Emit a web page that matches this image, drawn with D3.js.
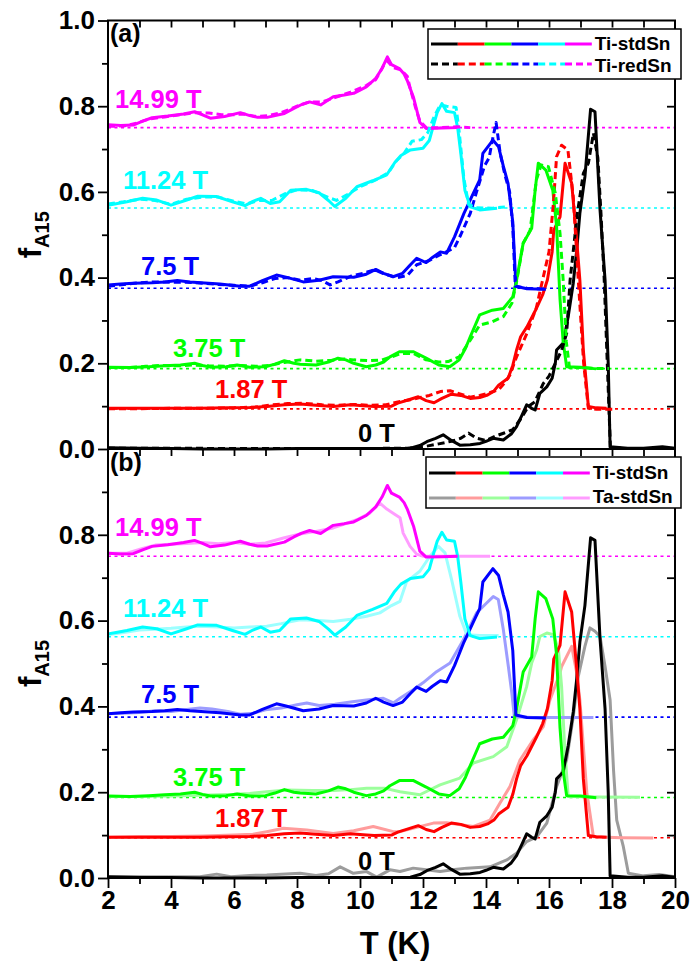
<!DOCTYPE html>
<html><head><meta charset="utf-8">
<script src="https://cdn.jsdelivr.net/npm/d3@7"></script>
<style>
body{margin:0;background:#fff}
svg{display:block}
text{font-family:"Liberation Sans",Arial,sans-serif;font-weight:bold}
</style>
</head><body><svg id="c" width="691" height="965"></svg>
<script>
// ---------------- data ----------------
const fields = ["0 T","1.87 T","3.75 T","7.5 T","11.24 T","14.99 T"];
const offsets = [0, 0.09375, 0.1875, 0.375, 0.5625, 0.75];
const colors = ["#000000","#ff0000","#00ff00","#0000ff","#00ffff","#ff00ff"];
const lightColors = ["#9c9c9c","#ff9c9c","#9cff9c","#9c9cff","#9cffff","#ff9cff"];
const legendA = ["Ti-stdSn","Ti-redSn"];
const legendB = ["Ti-stdSn","Ta-stdSn"];
const xTicks = [2,4,6,8,10,12,14,16,18,20];
const xMinor = [3,5,7,9,11,13,15,17,19];
const yTicksA = [0,0.2,0.4,0.6,0.8,1.0];
const yTicksB = [0,0.2,0.4,0.6,0.8];
const yMinor = [0.1,0.3,0.5,0.7,0.9];

// Ti-stdSn (solid, both panels)
const k_std = [[2.0,0.003],[3,0.002],[4,0.001],[5,0.0],[6,0.0],[7,0.0],[8,0.001],[9,0.001],[10,0.001],[11,0.001],[11.6,0.002],[11.9,0.008],[12.12,0.017],[12.4,0.025],[12.64,0.033],[12.9,0.02],[13.17,0.009],[13.5,0.01],[13.81,0.013],[14.0,0.018],[14.23,0.025],[14.55,0.021],[14.8,0.035],[14.97,0.052],[15.15,0.08],[15.29,0.103],[15.45,0.095],[15.56,0.091],[15.71,0.13],[15.93,0.145],[16.1,0.165],[16.2,0.2],[16.24,0.231],[16.45,0.247],[16.61,0.309],[16.77,0.387],[16.88,0.464],[16.98,0.55],[17.14,0.635],[17.32,0.793],[17.46,0.787],[17.62,0.558],[17.78,0.394],[17.88,0.2],[17.94,0.005],[18.5,0.002],[19.0,0.002],[19.6,0.005],[20.0,0.002]];
const r_std = [[2.0,0.095],[3.0,0.095],[4.0,0.095],[4.9,0.095],[5.8,0.096],[6.5,0.097],[7.05,0.099],[7.6,0.103],[8.1,0.105],[8.6,0.102],[9.15,0.099],[9.7,0.103],[10.1,0.101],[10.45,0.099],[11.0,0.1],[11.2,0.107],[11.55,0.115],[11.85,0.122],[12.1,0.113],[12.35,0.108],[12.6,0.118],[12.9,0.128],[13.2,0.125],[13.5,0.118],[13.8,0.12],[14.05,0.126],[14.25,0.135],[14.4,0.149],[14.7,0.165],[14.85,0.195],[14.97,0.231],[15.1,0.262],[15.3,0.285],[15.6,0.328],[15.8,0.36],[15.95,0.395],[16.1,0.46],[16.15,0.51],[16.35,0.542],[16.51,0.667],[16.72,0.62],[16.88,0.488],[16.98,0.394],[17.09,0.231],[17.25,0.099],[17.5,0.096],[17.83,0.095]];
const g_std = [[2.0,0.191],[2.7,0.19],[3.3,0.192],[3.8,0.194],[4.3,0.196],[4.75,0.2],[5.0,0.195],[5.25,0.191],[5.75,0.192],[6.1,0.196],[6.5,0.191],[7.0,0.192],[7.3,0.198],[7.6,0.206],[7.9,0.2],[8.1,0.198],[8.6,0.196],[9.0,0.203],[9.3,0.212],[9.55,0.208],[9.8,0.2],[10.2,0.192],[10.5,0.196],[10.75,0.203],[10.95,0.215],[11.25,0.227],[11.7,0.227],[12.1,0.212],[12.5,0.196],[12.85,0.192],[13.15,0.208],[13.35,0.235],[13.5,0.262],[13.8,0.313],[14.2,0.324],[14.55,0.328],[14.85,0.355],[14.97,0.394],[15.18,0.48],[15.45,0.515],[15.56,0.604],[15.66,0.667],[15.9,0.651],[16.12,0.604],[16.24,0.52],[16.35,0.35],[16.45,0.25],[16.56,0.192],[17.0,0.191],[17.5,0.187]];
const b_std = [[2.0,0.383],[2.4,0.385],[2.8,0.387],[3.4,0.388],[3.8,0.39],[4.2,0.393],[4.6,0.39],[4.95,0.388],[5.55,0.385],[6.2,0.38],[6.5,0.38],[6.9,0.393],[7.35,0.406],[7.65,0.401],[8.2,0.39],[8.7,0.394],[9.15,0.402],[9.8,0.401],[10.2,0.408],[10.5,0.419],[10.75,0.41],[11.05,0.402],[11.35,0.41],[11.6,0.43],[11.8,0.445],[12.1,0.435],[12.3,0.447],[12.55,0.46],[12.75,0.457],[13.0,0.495],[13.3,0.55],[13.6,0.597],[13.8,0.628],[13.9,0.69],[14.22,0.721],[14.4,0.705],[14.55,0.66],[14.7,0.62],[14.85,0.53],[14.95,0.38],[15.3,0.374],[15.9,0.373]];
const c_std = [[2.0,0.569],[2.3,0.573],[2.6,0.577],[3.1,0.585],[3.55,0.581],[4.0,0.569],[4.5,0.581],[4.85,0.59],[5.45,0.589],[5.95,0.577],[6.35,0.568],[6.6,0.578],[6.85,0.585],[7.15,0.573],[7.45,0.577],[7.8,0.604],[8.3,0.606],[8.7,0.598],[9.0,0.58],[9.2,0.566],[9.55,0.585],[9.9,0.612],[10.4,0.626],[10.85,0.64],[11.1,0.668],[11.3,0.685],[11.6,0.698],[12.0,0.702],[12.2,0.72],[12.35,0.76],[12.45,0.785],[12.6,0.806],[12.75,0.788],[13.0,0.785],[13.1,0.75],[13.2,0.69],[13.33,0.604],[13.5,0.565],[13.8,0.558],[14.35,0.562]];
const m_std = [[2.0,0.757],[2.4,0.755],[2.8,0.756],[3.1,0.765],[3.4,0.773],[3.9,0.777],[4.4,0.782],[4.75,0.787],[5.0,0.78],[5.25,0.772],[5.7,0.776],[6.2,0.785],[6.5,0.778],[6.75,0.774],[7.05,0.774],[7.6,0.783],[7.9,0.795],[8.15,0.804],[8.4,0.81],[8.75,0.803],[9.15,0.822],[9.5,0.826],[9.8,0.83],[10.2,0.845],[10.5,0.865],[10.7,0.888],[10.87,0.915],[11.0,0.897],[11.25,0.888],[11.4,0.875],[11.5,0.86],[11.7,0.82],[11.9,0.762],[12.1,0.748],[12.6,0.749],[13.1,0.75]];

// Ti-redSn (dashed, panel a)
const k_red = [[2.0,0.002],[4,0.002],[6,0.001],[8,0.001],[10,0.001],[11.5,0.002],[12.0,0.005],[12.5,0.012],[12.9,0.018],[13.2,0.025],[13.45,0.037],[13.7,0.025],[14.0,0.02],[14.3,0.03],[14.6,0.038],[14.85,0.045],[15.1,0.07],[15.35,0.1],[15.55,0.11],[15.82,0.153],[16.0,0.17],[16.2,0.2],[16.4,0.23],[16.56,0.27],[16.67,0.394],[16.9,0.55],[17.09,0.643],[17.25,0.667],[17.41,0.737],[17.55,0.68],[17.65,0.55],[17.75,0.4],[17.85,0.2],[17.95,0.003],[18.3,0.002]];
const r_red = [[2.0,0.094],[3.0,0.094],[4.0,0.095],[5.0,0.095],[6.0,0.096],[6.7,0.098],[7.2,0.103],[7.7,0.106],[8.2,0.107],[8.8,0.103],[9.3,0.102],[9.8,0.104],[10.3,0.102],[10.8,0.103],[11.2,0.11],[11.6,0.115],[11.9,0.12],[12.2,0.125],[12.55,0.134],[12.86,0.136],[13.2,0.128],[13.5,0.121],[13.8,0.125],[14.05,0.13],[14.4,0.138],[14.6,0.155],[14.76,0.173],[14.97,0.215],[15.3,0.27],[15.6,0.33],[15.82,0.402],[16.0,0.46],[16.14,0.573],[16.24,0.682],[16.4,0.709],[16.6,0.698],[16.77,0.589],[16.93,0.394],[17.1,0.2],[17.25,0.095],[17.5,0.093],[18.1,0.093]];
const g_red = [[2.0,0.19],[2.6,0.19],[3.2,0.193],[3.7,0.195],[4.2,0.194],[4.7,0.196],[5.2,0.194],[5.7,0.193],[6.2,0.195],[6.7,0.193],[7.1,0.195],[7.6,0.202],[8.1,0.208],[8.6,0.205],[9.1,0.207],[9.5,0.21],[9.8,0.208],[10.3,0.206],[10.7,0.208],[11.0,0.215],[11.3,0.223],[11.7,0.223],[12.1,0.208],[12.5,0.203],[12.8,0.204],[13.15,0.215],[13.5,0.254],[13.8,0.289],[14.2,0.297],[14.55,0.309],[14.82,0.34],[14.97,0.39],[15.18,0.48],[15.4,0.51],[15.6,0.628],[15.75,0.663],[15.98,0.659],[16.2,0.597],[16.35,0.503],[16.45,0.394],[16.55,0.25],[16.65,0.19],[17.0,0.19],[17.5,0.188],[17.9,0.188]];
const b_red = [[2.0,0.38],[2.5,0.384],[3.0,0.388],[3.5,0.39],[4.0,0.389],[4.5,0.389],[5.0,0.387],[5.5,0.384],[6.0,0.382],[6.5,0.38],[6.9,0.388],[7.3,0.398],[7.7,0.4],[8.1,0.394],[8.5,0.398],[8.8,0.393],[9.05,0.383],[9.3,0.39],[9.7,0.403],[10.1,0.41],[10.45,0.418],[10.8,0.408],[11.2,0.4],[11.5,0.405],[11.8,0.43],[12.2,0.44],[12.5,0.452],[12.8,0.462],[13.0,0.47],[13.2,0.5],[13.5,0.55],[13.7,0.6],[13.95,0.66],[14.1,0.68],[14.2,0.72],[14.32,0.762],[14.45,0.69],[14.6,0.64],[14.75,0.6],[14.85,0.52],[14.93,0.38],[15.3,0.375],[15.9,0.373]];
const c_red = [[2.0,0.572],[2.5,0.577],[3.0,0.583],[3.5,0.58],[4.0,0.571],[4.5,0.583],[5.0,0.588],[5.5,0.588],[6.0,0.578],[6.4,0.572],[6.8,0.58],[7.2,0.58],[7.6,0.595],[8.0,0.605],[8.5,0.603],[8.9,0.59],[9.25,0.58],[9.6,0.594],[10.0,0.612],[10.5,0.628],[10.9,0.645],[11.15,0.672],[11.4,0.69],[11.65,0.718],[11.95,0.722],[12.15,0.738],[12.35,0.775],[12.55,0.803],[12.75,0.8],[13.05,0.797],[13.15,0.74],[13.3,0.63],[13.45,0.57],[13.7,0.563],[14.2,0.562],[14.6,0.565]];
const m_red = [[2.0,0.753],[2.5,0.754],[2.9,0.76],[3.3,0.77],[3.8,0.775],[4.3,0.78],[4.8,0.785],[5.2,0.784],[5.6,0.78],[6.0,0.78],[6.3,0.782],[6.7,0.776],[7.1,0.778],[7.5,0.785],[8.0,0.8],[8.4,0.81],[8.8,0.81],[9.2,0.82],[9.7,0.833],[10.2,0.848],[10.5,0.862],[10.75,0.895],[10.88,0.905],[11.05,0.89],[11.3,0.885],[11.5,0.87],[11.6,0.84],[11.75,0.8],[11.9,0.765],[12.1,0.75],[12.6,0.75],[13.1,0.752],[13.5,0.75]];

// Ta-stdSn (light, panel b)
const k_ta = [[2.0,0.002],[3.0,0.002],[4.0,0.003],[4.92,0.003],[5.45,0.009],[5.9,0.003],[6.5,0.006],[7.04,0.007],[7.8,0.01],[8.1,0.011],[8.6,0.006],[9.0,0.01],[9.37,0.026],[9.79,0.011],[10.21,0.015],[10.53,0.002],[10.95,0.019],[11.27,0.015],[11.69,0.023],[12.1,0.019],[12.54,0.015],[13.0,0.02],[13.39,0.023],[14.13,0.026],[14.66,0.042],[14.97,0.058],[15.29,0.085],[15.61,0.096],[15.93,0.128],[16.24,0.213],[16.56,0.275],[16.77,0.376],[16.93,0.47],[17.14,0.54],[17.3,0.583],[17.46,0.575],[17.62,0.563],[17.78,0.493],[17.94,0.415],[18.05,0.25],[18.15,0.135],[18.36,0.073],[18.52,0.011],[19.0,0.005],[19.5,0.008],[20.0,0.003]];
const r_ta = [[2.0,0.095],[3.0,0.097],[4.0,0.097],[5.0,0.098],[6.0,0.1],[6.6,0.102],[7.04,0.108],[7.57,0.116],[8.31,0.112],[9.15,0.104],[9.8,0.11],[10.42,0.12],[11.06,0.108],[11.27,0.108],[11.8,0.118],[12.33,0.128],[12.75,0.129],[13.2,0.124],[13.6,0.12],[14.13,0.135],[14.44,0.174],[14.76,0.213],[15.08,0.275],[15.5,0.322],[15.82,0.353],[16.03,0.415],[16.35,0.478],[16.4,0.493],[16.72,0.54],[16.88,0.478],[16.98,0.415],[17.2,0.2],[17.41,0.096],[18.3,0.094],[19.31,0.093]];
const g_ta = [[2.0,0.19],[3.0,0.19],[4.0,0.191],[5.0,0.193],[6.0,0.195],[6.5,0.197],[7.04,0.201],[7.67,0.205],[8.5,0.204],[9.15,0.204],[9.7,0.206],[10.21,0.209],[10.8,0.209],[11.27,0.201],[11.9,0.194],[12.54,0.217],[13.17,0.233],[13.6,0.268],[14.23,0.283],[14.66,0.306],[14.97,0.369],[15.29,0.446],[15.45,0.501],[15.61,0.532],[15.71,0.563],[15.93,0.571],[16.14,0.567],[16.3,0.532],[16.4,0.446],[16.5,0.3],[16.61,0.19],[17.5,0.189],[18.89,0.188]];
const b_ta = [[2.0,0.383],[2.5,0.384],[3.0,0.386],[3.5,0.39],[4.0,0.388],[4.5,0.393],[4.92,0.396],[5.3,0.394],[5.8,0.388],[6.2,0.382],[6.6,0.384],[7.0,0.392],[7.5,0.396],[8.0,0.404],[8.31,0.408],[8.7,0.402],[9.2,0.405],[9.7,0.41],[10.2,0.415],[10.74,0.419],[11.06,0.408],[11.27,0.419],[11.69,0.439],[12.0,0.455],[12.43,0.481],[12.86,0.501],[13.28,0.555],[13.7,0.618],[14.02,0.641],[14.23,0.656],[14.39,0.649],[14.55,0.579],[14.71,0.493],[14.82,0.431],[14.9,0.376],[15.5,0.374],[16.5,0.374],[17.41,0.374]];
const c_ta = [[2.0,0.567],[2.5,0.572],[3.0,0.578],[3.5,0.58],[4.0,0.582],[4.5,0.585],[4.92,0.587],[5.5,0.585],[6.0,0.583],[6.5,0.585],[7.04,0.587],[7.5,0.593],[8.1,0.602],[8.7,0.6],[9.15,0.598],[9.7,0.603],[10.21,0.61],[10.63,0.618],[11.0,0.635],[11.27,0.645],[11.48,0.691],[11.9,0.715],[12.22,0.75],[12.49,0.773],[12.7,0.758],[12.91,0.695],[13.17,0.61],[13.39,0.567],[13.8,0.565],[14.4,0.565]];
const m_ta = [[2.0,0.757],[2.6,0.757],[3.1,0.768],[3.5,0.776],[4.0,0.778],[4.5,0.78],[5.0,0.782],[5.5,0.779],[6.0,0.782],[6.5,0.778],[7.0,0.781],[7.6,0.793],[8.1,0.802],[8.6,0.808],[9.15,0.816],[9.9,0.835],[10.3,0.85],[10.63,0.874],[10.85,0.86],[11.1,0.848],[11.27,0.84],[11.37,0.804],[11.59,0.773],[11.8,0.755],[12.01,0.75],[13.0,0.75],[14.13,0.75]];

const stdSeries = [k_std, r_std, g_std, b_std, c_std, m_std];
const redSeries = [k_red, r_red, g_red, b_red, c_red, m_red];
const taSeries  = [k_ta, r_ta, g_ta, b_ta, c_ta, m_ta];

// ---------------- layout ----------------
const X0 = 108, X1 = 675, YTOP = 20.5, YMID = 449, YBOT = 878;
const svg = d3.select("#c");
const x = d3.scaleLinear().domain([2,20]).range([X0,X1]);
const yA = d3.scaleLinear().domain([0,1]).range([YMID,YTOP]);
const yB = d3.scaleLinear().domain([0,1]).range([YBOT,YMID]);
const FONT = '"Liberation Sans", Arial, sans-serif';
const LW = 3;

// field label positions (pixel x, baseline offset from panel top)
const labelPos = [[358,421],[215,377.5],[173,336.5],[141,254],[123,168],[115,87]];

function styleAxis(g, fs){
  g.select(".domain").remove();
  g.selectAll(".tick line").attr("stroke","#000").attr("stroke-width",1.8);
  g.selectAll(".tick text").attr("font-size",fs||26).attr("font-family",FONT)
   .attr("font-weight","bold").attr("fill","#000");
}

const line = (y) => d3.line().x(d=>x(d[0])).y(d=>y(d[1]));

function drawPanel(y, top, bottom, secondSeries, secondColors, secondDash, yTicks){
  const g = svg.append("g");
  offsets.forEach((o,i)=>{
    if(i===0) return;
    g.append("line").attr("x1",x(2)).attr("x2",x(20)).attr("y1",y(o)).attr("y2",y(o))
      .attr("stroke",colors[i]).attr("stroke-width",1.6).attr("stroke-dasharray","3,3.5");
  });
  const L = line(y);
  if(!secondDash){
    secondSeries.forEach((s,i)=>{
      g.append("path").attr("d",L(s)).attr("fill","none").attr("stroke",secondColors[i])
        .attr("stroke-width",LW).attr("stroke-linejoin","round");
    });
  }
  stdSeries.forEach((s,i)=>{
    g.append("path").attr("d",L(s)).attr("fill","none").attr("stroke",colors[i])
      .attr("stroke-width",LW).attr("stroke-linejoin","round");
  });
  if(secondDash){
    secondSeries.forEach((s,i)=>{
      g.append("path").attr("d",L(s)).attr("fill","none").attr("stroke",secondColors[i])
        .attr("stroke-width",LW).attr("stroke-dasharray","7,4").attr("stroke-linejoin","round");
    });
  }
  svg.append("rect").attr("x",X0).attr("y",top).attr("width",X1-X0).attr("height",bottom-top)
    .attr("fill","none").attr("stroke","#000").attr("stroke-width",2);
  const la = svg.append("g").attr("transform",`translate(${X0},0)`)
    .call(d3.axisLeft(y).tickValues(yTicks).tickSize(10).tickPadding(3).tickFormat(d3.format(".1f")));
  styleAxis(la, 26);
  const lm = svg.append("g").attr("transform",`translate(${X0},0)`)
    .call(d3.axisLeft(y).tickValues(yMinor).tickSize(6).tickFormat(""));
  styleAxis(lm);
  const ra = svg.append("g").attr("transform",`translate(${X1},0)`)
    .call(d3.axisLeft(y).tickValues(d3.range(1,10).map(v=>v/10)).tickSize(8).tickFormat(""));
  styleAxis(ra);
  const ta = svg.append("g").attr("transform",`translate(0,${top})`)
    .call(d3.axisBottom(x).tickValues(d3.range(3,20)).tickSize(7).tickFormat(""));
  styleAxis(ta);
  fields.forEach((f,i)=>{
    svg.append("text").attr("x",labelPos[i][0]).attr("y",top+labelPos[i][1])
      .attr("font-size",25.5).attr("fill",colors[i]).text(f);
  });
  const t = svg.append("text").attr("transform",`translate(41,${(top+bottom)/2}) rotate(-90)`)
    .attr("text-anchor","middle").attr("font-size",31).attr("fill","#000");
  t.append("tspan").text("f");
  t.append("tspan").attr("font-size",20).attr("dy",8).text("A15");
}

drawPanel(yA, YTOP, YMID, redSeries, colors, true, yTicksA);
drawPanel(yB, YMID, YBOT, taSeries, lightColors, false, yTicksB);

const ba = svg.append("g").attr("transform",`translate(0,${YBOT})`)
  .call(d3.axisBottom(x).tickValues(xTicks).tickSize(10).tickPadding(3).tickFormat(d3.format("d")));
styleAxis(ba, 26);
const bm = svg.append("g").attr("transform",`translate(0,${YBOT})`)
  .call(d3.axisBottom(x).tickValues(xMinor).tickSize(6).tickFormat(""));
styleAxis(bm);
svg.append("text").attr("x",395).attr("y",954).attr("text-anchor","middle")
  .attr("font-size",31).attr("fill","#000").text("T (K)");

svg.append("text").attr("x",110).attr("y",42).attr("font-size",25).attr("fill","#000").text("(a)");
svg.append("text").attr("x",110).attr("y",471).attr("font-size",25).attr("fill","#000").text("(b)");

function legend(bx, by, bw, bh, labels, rowY, textY, c2, dash2){
  svg.append("rect").attr("x",bx).attr("y",by).attr("width",bw).attr("height",bh)
    .attr("fill","#fff").attr("stroke","#000").attr("stroke-width",1.5);
  const segW = 26.8, lx = bx+3;
  colors.forEach((c,i)=>{
    svg.append("line").attr("x1",lx+i*segW).attr("x2",lx+(i+1)*segW).attr("y1",rowY[0]).attr("y2",rowY[0])
      .attr("stroke",c).attr("stroke-width",LW);
    const l2 = svg.append("line").attr("x1",lx+i*segW).attr("x2",lx+(i+1)*segW).attr("y1",rowY[1]).attr("y2",rowY[1])
      .attr("stroke",c2[i]).attr("stroke-width",LW);
    if(dash2) l2.attr("stroke-dasharray","7,4");
  });
  labels.forEach((t,i)=>{
    svg.append("text").attr("x",lx+6*segW+3).attr("y",textY[i]).attr("font-size",19)
      .attr("fill","#000").text(t);
  });
}
legend(428, 29, 253, 50, legendA, [44,64], [49.5,71.5], colors, true);
legend(426, 457, 255, 51, legendB, [473,498], [478.5,503], lightColors, false);
</script>
</body></html>
